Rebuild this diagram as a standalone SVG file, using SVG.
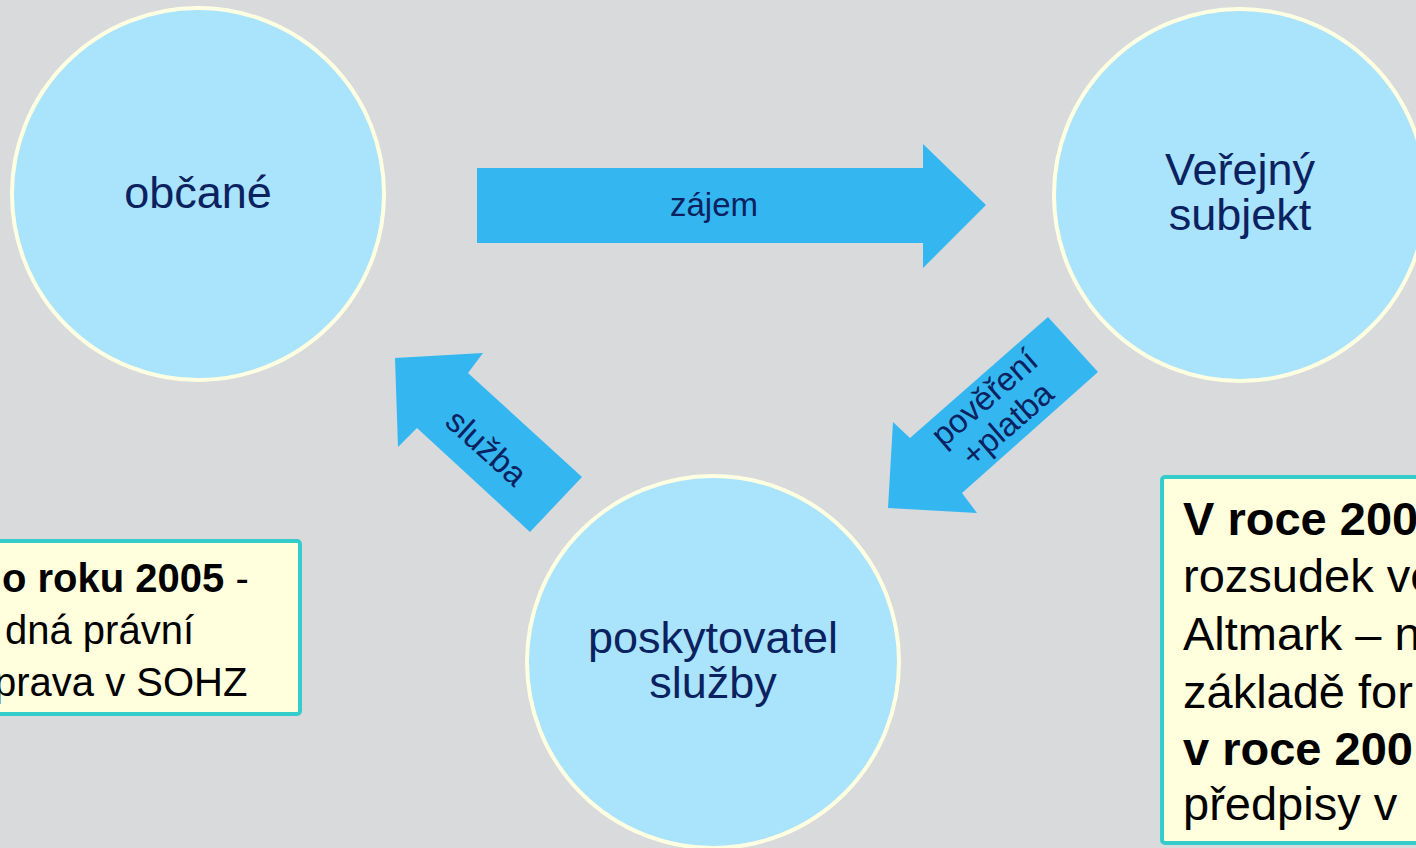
<svg xmlns="http://www.w3.org/2000/svg" width="1416" height="848" viewBox="0 0 1416 848">
<style>
.bg{fill:#D9DADC}
.node{fill:#AAE3FC;stroke:#FFFFE2;stroke-width:4}
.ntext{font-family:"Liberation Sans",Arial,sans-serif;font-size:45px;fill:#0B2260;text-anchor:middle}
.arrow{fill:#34B7F1}
.atext{font-family:"Liberation Sans",Arial,sans-serif;font-size:33px;fill:#0B2260;text-anchor:middle}
.box{fill:#FFFFDD;stroke:#35CCCC;stroke-width:4}
.btext{font-family:"Liberation Sans",Arial,sans-serif;fill:#000}
.b{font-weight:bold}
</style>
<rect class="bg" x="0" y="0" width="1416" height="848"/>
<g id="obcane">
<circle class="node" cx="198" cy="194" r="186"/>
<text class="ntext" x="198" y="208">občané</text>
</g>
<g id="verejny-subjekt">
<circle class="node" cx="1240" cy="195" r="186"/>
<text class="ntext" x="1240" y="185">Veřejný</text>
<text class="ntext" x="1240" y="230">subjekt</text>
</g>
<g id="poskytovatel">
<circle class="node" cx="713" cy="662" r="186"/>
<text class="ntext" x="713" y="653">poskytovatel</text>
<text class="ntext" x="713" y="698">služby</text>
</g>
<g id="connectors">
<g id="zajem">
<path class="arrow" d="M477,168 L923,168 L923,144 L986,205 L923,268 L923,243 L477,243 Z"/>
<text class="atext" x="714" y="216">zájem</text>
</g>
<g id="povereni">
<path class="arrow" d="M1048,317 L1098,372 L962,493 L977,513 L888,508 L893,422 L910,438 Z"/>
<g transform="translate(995,410) rotate(-41)">
<text class="atext" x="0" y="-5">pověření</text>
<text class="atext" x="0" y="30">+platba</text>
</g>
</g>
<g id="sluzba">
<path class="arrow" d="M395,358 L483,353 L468,373 L582,477 L530,532 L417,428 L398,447 Z"/>
<text class="atext" transform="translate(487,447) rotate(42)" x="0" y="12">služba</text>
</g>
</g>
<g id="box-left">
<rect class="box" x="-10" y="541" width="310" height="173" rx="3"/>
<text class="btext" font-size="40" x="2" y="592"><tspan class="b">o roku 2005</tspan> -</text>
<text class="btext" font-size="40" x="5" y="644">dná právní</text>
<text class="btext" font-size="40" x="-6" y="696">prava v SOHZ</text>
</g>
<g id="box-right">
<rect class="box" x="1162" y="477" width="300" height="366" rx="3"/>
<text class="btext b" font-size="47" x="1183" y="535">V roce 200</text>
<text class="btext" font-size="47" x="1183" y="592">rozsudek ve</text>
<text class="btext" font-size="47" x="1183" y="650">Altmark – n</text>
<text class="btext" font-size="47" x="1183" y="708">základě for</text>
<text class="btext b" font-size="47" x="1183" y="765">v roce 200</text>
<text class="btext" font-size="47" x="1183" y="820">předpisy v</text>
</g>
</svg>
